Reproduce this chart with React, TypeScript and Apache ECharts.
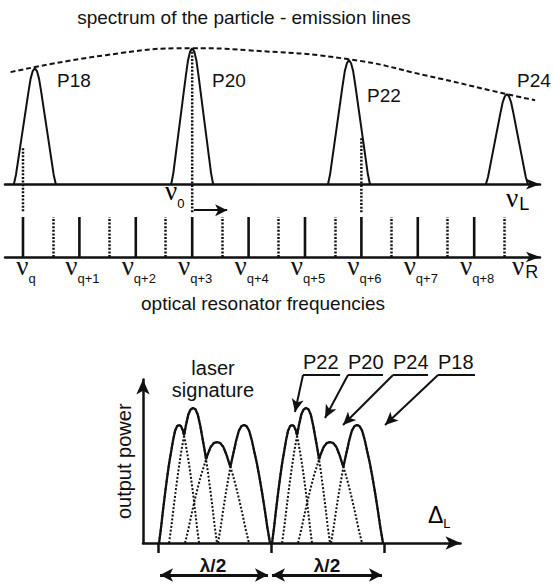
import React, { useEffect, useRef } from 'react';
import * as echarts from 'echarts';

const SANS = '"Liberation Sans", Arial, sans-serif';
const SERIF = '"Liberation Serif", "DejaVu Serif", serif';

// ---------- Top panel: emission lines of the particle (x in resonator-mode units, y relative intensity)
const EMISSION_NAMES = ['P18', 'P20', 'P22', 'P24'];
const EMISSION_CENTERS = [0.21, 3.0, 5.78, 8.58];
const EMISSION_HEIGHTS = [0.853, 1.0, 0.912, 0.662];
const EMISSION_HALF_WIDTH = 0.372;

const ENVELOPE_X = [-0.22, 1.47, 2.98, 3.99, 5.78, 7.13, 8.58, 9.08];
const ENVELOPE_Y = [0.824, 0.949, 1.0, 0.985, 0.919, 0.801, 0.662, 0.618];

// normalised line profiles: offset from centre (in half-widths) -> relative height
const PROFILE_T = [0, 0.1, 0.2, 0.3, 0.4, 0.5, 0.6, 0.7, 0.8, 0.9, 1.0];
const PROFILE_H = [1, 0.975, 0.91, 0.8, 0.68, 0.56, 0.44, 0.32, 0.2, 0.08, 0];
const SIG_PROFILE_H = [1, 0.99, 0.95, 0.87, 0.77, 0.67, 0.55, 0.42, 0.28, 0.13, 0];

// dotted guides from the lines down to the resonator modes
const GUIDE_MODES = [0, 3, 6];
const GUIDE_TOPS = [0.265, 1.0, 0.338];
const GUIDE_BOTTOM = -0.206;
const NU0_SHIFT = [3.03, 3.62];
const NU0_LEVEL = -0.191;

// ---------- Middle: optical resonator frequencies
const MODE_INDEX = [0, 1, 2, 3, 4, 5, 6, 7, 8];
const MODE_LABELS = ['q', 'q+1', 'q+2', 'q+3', 'q+4', 'q+5', 'q+6', 'q+7', 'q+8'];
const HALF_MODE_OFFSET = 0.53;
const MODE_R = 8.85;

// ---------- Bottom: laser signature (x in units of lambda/2, y relative output power)
const SIG_NAMES = ['P22', 'P20', 'P24', 'P18'];
const SIG_CENTERS = [0.186, 0.31, 0.522, 0.761];
const SIG_HEIGHTS = [0.874, 1.0, 0.748, 0.874];
const SIG_HALF_WIDTHS = [0.177, 0.212, 0.283, 0.23];
const SIG_PERIODS = [0, 1];
const SIG_TICKS = [0, 1, 2];
const HALF_LAMBDA_SPANS = [[0.018, 0.973], [1.009, 1.982]];
const HALF_LAMBDA_LEVEL = -0.237;

function profileAt(t: number, prof: number[]): number {
  const a = Math.abs(t);
  if (a >= 1) return 0;
  for (let i = 0; i < PROFILE_T.length - 1; i++) {
    if (a >= PROFILE_T[i] && a <= PROFILE_T[i + 1]) {
      const f = (a - PROFILE_T[i]) / (PROFILE_T[i + 1] - PROFILE_T[i]);
      return prof[i] + f * (prof[i + 1] - prof[i]);
    }
  }
  return 0;
}

function lineShape(c: number, h: number, w: number, prof: number[]): number[][] {
  const pts: number[][] = [];
  for (let i = PROFILE_T.length - 1; i > 0; i--) pts.push([c - PROFILE_T[i] * w, h * prof[i]]);
  for (let i = 0; i < PROFILE_T.length; i++) pts.push([c + PROFILE_T[i] * w, h * prof[i]]);
  return pts;
}

function signatureEnvelope(offset: number): number[][] {
  const lo = Math.min(...SIG_CENTERS.map((c, i) => c - SIG_HALF_WIDTHS[i])) + offset;
  const hi = Math.max(...SIG_CENTERS.map((c, i) => c + SIG_HALF_WIDTHS[i])) + offset;
  const n = 500;
  const pts: number[][] = [];
  for (let j = 0; j <= n; j++) {
    const x = lo + ((hi - lo) * j) / n;
    let y = 0;
    SIG_CENTERS.forEach((c, i) => {
      y = Math.max(y, SIG_HEIGHTS[i] * profileAt((x - c - offset) / SIG_HALF_WIDTHS[i], SIG_PROFILE_H));
    });
    pts.push([x, y]);
  }
  return pts;
}

const BLACK = '#111';

export default function App() {
  const ref = useRef<HTMLDivElement>(null);

  useEffect(() => {
    if (!ref.current) return;
    const chart = echarts.init(ref.current, undefined, { renderer: 'svg' });

    const series: any[] = [];

    EMISSION_NAMES.forEach((n, i) => {
      series.push({
        type: 'line', name: n, xAxisIndex: 0, yAxisIndex: 0,
        data: lineShape(EMISSION_CENTERS[i], EMISSION_HEIGHTS[i], EMISSION_HALF_WIDTH, PROFILE_H),
        symbol: 'none', lineStyle: { color: BLACK, width: 2 }, silent: true,
      });
    });
    series.push({
      type: 'line', name: 'envelope', xAxisIndex: 0, yAxisIndex: 0,
      data: ENVELOPE_X.map((x, i) => [x, ENVELOPE_Y[i]]), smooth: 0.5,
      symbol: 'none', lineStyle: { color: BLACK, width: 2, type: [5, 3] }, silent: true,
    });
    GUIDE_MODES.forEach((m, i) => {
      const s: any = {
        type: 'line', xAxisIndex: 0, yAxisIndex: 0,
        data: [[m, GUIDE_TOPS[i]], [m, GUIDE_BOTTOM]],
        symbol: 'none', lineStyle: { color: BLACK, width: 2.5, type: [2, 1.6] }, silent: true, z: 3,
      };
      if (m === 3) {
        s.markLine = {
          silent: true, symbol: ['none', 'arrow'], symbolSize: [9, 12],
          label: { show: false },
          lineStyle: { color: BLACK, width: 2, type: 'solid' },
          data: [[{ coord: [NU0_SHIFT[0], NU0_LEVEL] }, { coord: [NU0_SHIFT[1], NU0_LEVEL] }]],
        };
      }
      series.push(s);
    });

    // resonator modes
    series.push({
      type: 'bar', xAxisIndex: 1, yAxisIndex: 1,
      data: MODE_INDEX.map((m) => [m, 1]), barWidth: 2.6,
      itemStyle: { color: BLACK }, silent: true,
      markLine: {
        silent: true, symbol: ['none', 'none'], label: { show: false },
        lineStyle: { color: BLACK, width: 2.5, type: [2, 1.6] },
        data: MODE_INDEX.map((m) => ({ xAxis: m + HALF_MODE_OFFSET })),
      },
    });

    // laser signature
    SIG_PERIODS.forEach((p) => {
      SIG_NAMES.forEach((n, i) => {
        series.push({
          type: 'line', name: n, xAxisIndex: 2, yAxisIndex: 2,
          data: lineShape(SIG_CENTERS[i] + p, SIG_HEIGHTS[i], SIG_HALF_WIDTHS[i], SIG_PROFILE_H),
          symbol: 'none', lineStyle: { color: BLACK, width: 2, type: [2, 1.8] }, silent: true,
        });
      });
      series.push({
        type: 'line', name: 'signature', xAxisIndex: 2, yAxisIndex: 2,
        data: signatureEnvelope(p), symbol: 'none',
        lineStyle: { color: BLACK, width: 2.3 }, silent: true, z: 3,
      });
    });

    // annotations (bottom): leader lines and lambda/2 arrows
    const leaderStarts = [[1.283, 1.244], [1.681, 1.244], [2.08, 1.244], [2.478, 1.244]];
    const leaderEnds = [[1.611, 1.244], [1.991, 1.244], [2.389, 1.244], [2.805, 1.244]];
    const leaderTips = [[1.212, 0.97], [1.478, 0.926], [1.637, 0.874], [2.009, 0.874]];
    series.push({
      type: 'line', xAxisIndex: 3, yAxisIndex: 3, data: [[0, 0]], symbol: 'none',
      lineStyle: { opacity: 0 }, silent: true,
      markLine: {
        silent: true, symbol: ['none', 'none'], label: { show: false },
        lineStyle: { color: BLACK, width: 1.8, type: 'solid' },
        data: leaderStarts.map((s, i) => [{ coord: s }, { coord: leaderEnds[i] }]),
      },
    });
    series.push({
      type: 'line', xAxisIndex: 3, yAxisIndex: 3, data: [[0, 0]], symbol: 'none',
      lineStyle: { opacity: 0 }, silent: true,
      markLine: {
        silent: true, symbol: ['none', 'arrow'], symbolSize: [9, 13], label: { show: false },
        lineStyle: { color: BLACK, width: 2, type: 'solid' },
        data: leaderStarts.map((s, i) => [{ coord: s }, { coord: leaderTips[i] }]),
      },
    });
    series.push({
      type: 'line', xAxisIndex: 3, yAxisIndex: 3, data: [[0, 0]], symbol: 'none',
      lineStyle: { opacity: 0 }, silent: true,
      markLine: {
        silent: true, symbol: ['arrow', 'arrow'], symbolSize: [10, 13], label: { show: false },
        lineStyle: { color: BLACK, width: 3, type: 'solid' },
        data: HALF_LAMBDA_SPANS.map((s) => [{ coord: [s[0], HALF_LAMBDA_LEVEL] }, { coord: [s[1], HALF_LAMBDA_LEVEL] }]),
      },
    });

    const axisLineStyle = { color: BLACK, width: 2.5 };
    const hiddenAxis = (gridIndex: number, min: number, max: number) => ({
      type: 'value', gridIndex, min, max, show: false,
    });

    const nuRich = {
      n: { fontFamily: SERIF, fontSize: 27, lineHeight: 26, padding: [0, 0, 6, 0], color: BLACK, verticalAlign: 'bottom' },
      s: { fontFamily: SANS, fontSize: 13, lineHeight: 15, color: BLACK, verticalAlign: 'bottom' },
      R: { fontFamily: SANS, fontSize: 18, lineHeight: 24, padding: [0, 0, 4, 1], color: BLACK, verticalAlign: 'bottom' },
    };

    const option: any = {
      animation: false,
      backgroundColor: '#fff',
      grid: [
        { left: 5, top: 21, width: 535, height: 217.6 },
        { left: 5, top: 217, width: 535, height: 40 },
        { left: 143, top: 379.5, width: 317.5, height: 163.5 },
        { left: 143, top: 340, width: 400, height: 246 },
      ],
      xAxis: [
        {
          type: 'value', gridIndex: 0, min: -0.319, max: 9.167,
          axisLine: { show: true, onZero: true, symbol: ['none', 'arrow'], symbolSize: [8, 14], lineStyle: axisLineStyle },
          axisTick: { show: false }, axisLabel: { show: false }, splitLine: { show: false },
        },
        {
          type: 'value', gridIndex: 1, min: -0.319, max: 9.167,
          axisLine: { show: true, symbol: ['none', 'arrow'], symbolSize: [8, 14], lineStyle: axisLineStyle },
          axisTick: { show: false }, splitLine: { show: false },
          axisLabel: {
            show: true, margin: 2, padding: [0, 0, 0, 6],
            customValues: [...MODE_INDEX, MODE_R],
            formatter: (v: number) => {
              if (Math.abs(v - MODE_R) < 1e-6) return '{n|ν}{R|R}';
              const idx = MODE_INDEX.indexOf(Math.round(v));
              return '{n|ν}{s|' + MODE_LABELS[idx] + '}';
            },
            rich: nuRich,
          },
        },
        {
          type: 'value', gridIndex: 2, min: -0.133, max: 2.677,
          axisLine: { show: true, onZero: false, symbol: ['none', 'arrow'], symbolSize: [10, 15], lineStyle: axisLineStyle },
          axisTick: { show: true, inside: false, length: 10, customValues: SIG_TICKS, lineStyle: { color: BLACK, width: 2.5 } },
          axisLabel: { show: false }, splitLine: { show: false },
        },
        hiddenAxis(3, -0.133, 3.407),
      ],
      yAxis: [
        hiddenAxis(0, -0.4, 1.2),
        hiddenAxis(1, 0, 1),
        {
          type: 'value', gridIndex: 2, min: 0, max: 1.211,
          axisLine: { show: true, onZero: false, symbol: ['none', 'arrow'], symbolSize: [10, 15], lineStyle: axisLineStyle },
          axisTick: { show: false }, axisLabel: { show: false }, splitLine: { show: false },
          name: 'output power', nameLocation: 'middle', nameRotate: 90, nameGap: 9,
          nameTextStyle: { fontFamily: SANS, fontSize: 20, color: BLACK },
        },
        hiddenAxis(3, -0.3185, 1.5037),
      ],
      series,
      graphic: [
        { type: 'text', x: 244, y: 17, style: { text: 'spectrum of the particle - emission lines', font: '19px ' + SANS, fill: BLACK, align: 'center', verticalAlign: 'middle' } },
        { type: 'text', x: 263, y: 303, style: { text: 'optical resonator frequencies', font: '19px ' + SANS, fill: BLACK, align: 'center', verticalAlign: 'middle' } },
        { type: 'text', x: 57, y: 80, style: { text: 'P18', font: '19px ' + SANS, fill: BLACK, align: 'left', verticalAlign: 'middle' } },
        { type: 'text', x: 212, y: 80, style: { text: 'P20', font: '19px ' + SANS, fill: BLACK, align: 'left', verticalAlign: 'middle' } },
        { type: 'text', x: 367, y: 95, style: { text: 'P22', font: '19px ' + SANS, fill: BLACK, align: 'left', verticalAlign: 'middle' } },
        { type: 'text', x: 517, y: 80, style: { text: 'P24', font: '19px ' + SANS, fill: BLACK, align: 'left', verticalAlign: 'middle' } },
        { type: 'text', x: 165, y: 197, style: { text: '{n|ν}{s|0}', rich: nuRich, align: 'left', verticalAlign: 'middle' } },
        { type: 'text', x: 506, y: 204, style: { text: '{n|ν}{R|L}', rich: nuRich, align: 'left', verticalAlign: 'middle' } },
        { type: 'text', x: 213, y: 379, style: { text: 'laser\nsignature', font: '20px ' + SANS, lineHeight: 22, fill: BLACK, align: 'center', verticalAlign: 'middle' } },
        {
          type: 'text', x: 428, y: 518,
          style: {
            text: '{d|Δ}{l|L}', align: 'left', verticalAlign: 'middle',
            rich: {
              d: { fontFamily: SANS, fontSize: 23, lineHeight: 24, padding: [0, 0, 4, 0], color: BLACK, verticalAlign: 'bottom' },
              l: { fontFamily: SANS, fontSize: 13, lineHeight: 14, color: BLACK, verticalAlign: 'bottom' },
            },
          },
        },
        ...SIG_NAMES.map((n, i) => ({
          type: 'text', x: 303 + i * 45, y: 362,
          style: { text: n, font: '20px ' + SANS, fill: BLACK, align: 'left', verticalAlign: 'middle' },
        })),
        { type: 'text', x: 213, y: 565, style: { text: 'λ/2', font: 'bold 19px ' + SANS, fill: BLACK, align: 'center', verticalAlign: 'middle' } },
        { type: 'text', x: 327, y: 565, style: { text: 'λ/2', font: 'bold 19px ' + SANS, fill: BLACK, align: 'center', verticalAlign: 'middle' } },
      ],
    };

    chart.setOption(option);
    return () => chart.dispose();
  }, []);

  return (
    <div
      ref={ref}
      style={{ position: 'absolute', left: 0, top: 0, width: 554, height: 586, background: '#fff' }}
    />
  );
}
